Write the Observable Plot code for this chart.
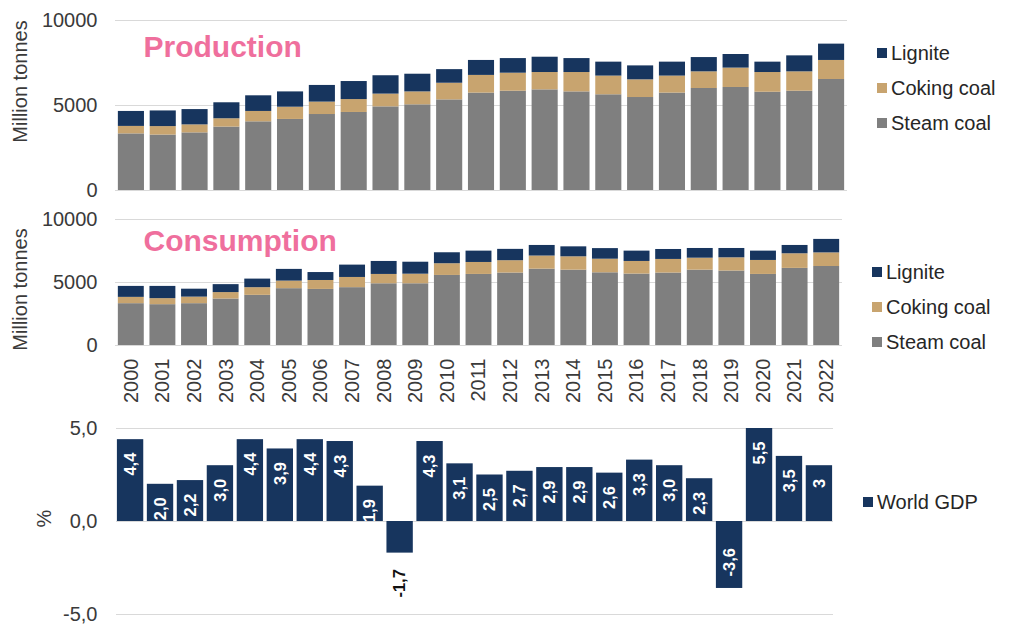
<!DOCTYPE html>
<html><head><meta charset="utf-8">
<script src="https://cdn.jsdelivr.net/npm/d3@7"></script>
<script src="https://cdn.jsdelivr.net/npm/@observablehq/plot@0.6"></script>
<style>
body{margin:0;background:#fff;font-family:"Liberation Sans",Arial,sans-serif;}
#wrap{position:relative;width:1014px;height:626px;overflow:hidden;background:#fff}
.chart{position:absolute;left:0}
.legend{position:absolute;font-size:20px;color:#262626;line-height:20px}
.legend .item{display:flex;align-items:center;height:35px}
.legend .sw{display:inline-block;width:10px;height:10px;margin-right:4px}
</style></head><body><div id="wrap"></div>
<script>
const years = ["2000","2001","2002","2003","2004","2005","2006","2007","2008","2009","2010","2011","2012","2013","2014","2015","2016","2017","2018","2019","2020","2021","2022"];
const gdpYears = ["2000","2001","2002","2003","2004","2005","2006","2007","2008","2009","2010","2011","2012","2013","2014","2015","2016","2017","2018","2019","2020","2021","2022","2023"];
const seriesNames = ["Steam coal","Coking coal","Lignite"];
const legendOrder = ["Lignite","Coking coal","Steam coal"];

const prodSteam   = [3330,3260,3390,3730,4040,4180,4470,4590,4920,5040,5330,5730,5840,5920,5800,5630,5470,5730,6000,6060,5780,5840,6530];
const prodCoking  = [440,500,470,490,610,720,730,760,750,760,980,1040,1060,1020,1140,1100,1040,1000,980,1140,1160,1140,1120];
const prodLignite = [880,920,900,940,920,900,980,1060,1080,1040,800,880,860,900,820,820,820,820,840,800,610,940,960];

const consSteam   = [3320,3240,3320,3690,3980,4510,4450,4590,4900,4900,5560,5640,5750,6060,5980,5770,5670,5750,5980,5910,5640,6120,6270];
const consCoking  = [500,480,520,510,610,600,710,810,740,760,930,950,980,1040,1060,1080,1000,1080,950,1050,1110,1160,1080];
const consLignite = [870,970,630,630,680,930,630,980,1030,950,870,900,900,840,790,840,820,790,770,740,740,660,1070];

const gdp = [4.4,2.0,2.2,3.0,4.4,3.9,4.4,4.3,1.9,-1.7,4.3,3.1,2.5,2.7,2.9,2.9,2.6,3.3,3.0,2.3,-3.6,5.5,3.5,3.0];
const gdpLabels = ["4,4","2,0","2,2","3,0","4,4","3,9","4,4","4,3","1,9","-1,7","4,3","3,1","2,5","2,7","2,9","2,9","2,6","3,3","3,0","2,3","-3,6","5,5","3,5","3"];

const yTicks = [0, 5000, 10000];
const gdpTicks = [-5, 0, 5];

const NAVY = "#17355e", TAN = "#c8a46f", GRAY = "#7f7f7f", PINK = "#ef6f9d", GRID = "#d9d9d9", TXT = "#3a3a3a";
const colorRange = [GRAY, TAN, NAVY];

function longTable(steam, coking, lignite) {
  const rows = [];
  [steam, coking, lignite].forEach((arr, k) => {
    years.forEach((y, i) => rows.push({year: y, type: seriesNames[k], value: arr[i]}));
  });
  return rows;
}

const baseStyle = {fontFamily: "'Liberation Sans', Arial, sans-serif", fontSize: "20px", color: TXT, background: "transparent", overflow: "visible"};
const wrap = document.getElementById("wrap");

function place(el, top) {
  el.classList.add("chart");
  el.style.top = top + "px";
  wrap.appendChild(el);
}

function coalChart(rows, opts) {
  return Plot.plot({
    width: 860, height: opts.height,
    marginLeft: 115, marginRight: opts.marginRight, marginTop: opts.marginTop, marginBottom: opts.marginBottom,
    style: baseStyle,
    x: {type: "band", domain: years, paddingInner: 0.18, paddingOuter: 0.09, round: false, axis: null},
    y: {domain: [0, 10000], axis: null},
    color: {domain: seriesNames, range: colorRange},
    marks: [
      Plot.gridY(yTicks, {stroke: GRID, strokeOpacity: 1, strokeWidth: 1}),
      Plot.barY(rows, {x: "year", y: "value", fill: "type"}),
      Plot.axisY(yTicks, {tickSize: 0, tickPadding: 18, fontSize: 20, tickFormat: d => String(d), label: null}),
      opts.xAxis ? Plot.axisX({tickRotate: -90, tickSize: 0, tickPadding: 13, fontSize: 20, label: null}) : null,
      Plot.text([opts.title], {frameAnchor: "top-left", textAnchor: "start", lineAnchor: "top", dx: 28, dy: opts.titleDy, fill: PINK, fontSize: 30, fontWeight: "bold"}),
      Plot.text(["Million tonnes"], {frameAnchor: "left", rotate: -90, textAnchor: "middle", lineAnchor: "middle", dx: -95, dy: opts.labelDy, fontSize: 20, fill: TXT})
    ]
  });
}

const c1 = coalChart(longTable(prodSteam, prodCoking, prodLignite),
  {height: 200, marginTop: 20, marginBottom: 10, marginRight: 13, title: "Production", titleDy: 15, labelDy: -24, xAxis: false});
place(c1, 0);

const c2 = coalChart(longTable(consSteam, consCoking, consLignite),
  {height: 210, marginTop: 19, marginBottom: 65, marginRight: 18, title: "Consumption", titleDy: 10, labelDy: 7, xAxis: true});
place(c2, 200);

const gdpRows = gdpYears.map((y, i) => ({year: y, v: gdp[i], label: gdpLabels[i]}));
const fmt = d => d.toFixed(1).replace(".", ",");
const c3 = Plot.plot({
  width: 860, height: 216,
  marginLeft: 116, marginRight: 27, marginTop: 18, marginBottom: 12,
  style: baseStyle,
  x: {type: "band", domain: gdpYears, paddingInner: 0.12, paddingOuter: 0.03, round: false, axis: null},
  y: {domain: [-5, 5], axis: null},
  marks: [
    Plot.gridY(gdpTicks, {stroke: GRID, strokeOpacity: 1, strokeWidth: 1}),
    Plot.barY(gdpRows, {x: "year", y: "v", fill: NAVY, clip: true}),
    Plot.axisY(gdpTicks, {tickSize: 0, tickPadding: 19, fontSize: 20, tickFormat: fmt, label: null}),
    Plot.text(gdpRows.filter(d => d.v >= 0), {x: "year", y: d => Math.min(d.v, 5), text: "label", rotate: -90, textAnchor: "end", lineAnchor: "middle", dy: 13, fill: "white", fontSize: 16.5, fontWeight: "bold"}),
    Plot.text(gdpRows.filter(d => d.v <= -2), {x: "year", y: "v", text: "label", rotate: -90, textAnchor: "start", lineAnchor: "middle", dy: -12, fill: "white", fontSize: 16.5, fontWeight: "bold"}),
    Plot.text(gdpRows.filter(d => d.v < 0 && d.v > -2), {x: "year", y: "v", text: "label", rotate: -90, textAnchor: "end", lineAnchor: "middle", dy: 16, fill: "#111", fontSize: 16.5, fontWeight: "bold"}),
    Plot.text(["%"], {frameAnchor: "left", rotate: -90, textAnchor: "middle", lineAnchor: "middle", dx: -72, dy: -3, fontSize: 20, fill: TXT})
  ]
});
place(c3, 410);

// Legends (HTML, outside the SVG plotting area)
function legend(items, colors, left, top) {
  const d = document.createElement("div");
  d.className = "legend";
  d.style.left = left + "px";
  d.style.top = top + "px";
  items.forEach((name, i) => {
    const it = document.createElement("div");
    it.className = "item";
    const sw = document.createElement("span");
    sw.className = "sw";
    sw.style.background = colors[i];
    it.appendChild(sw);
    it.appendChild(document.createTextNode(name));
    d.appendChild(it);
  });
  wrap.appendChild(d);
}
const legendColors = legendOrder.map(n => colorRange[seriesNames.indexOf(n)]);
legend(legendOrder, legendColors, 877, 35.5);
legend(legendOrder, legendColors, 872, 254);
legend(["World GDP"], [NAVY], 863, 484);
</script></body></html>
